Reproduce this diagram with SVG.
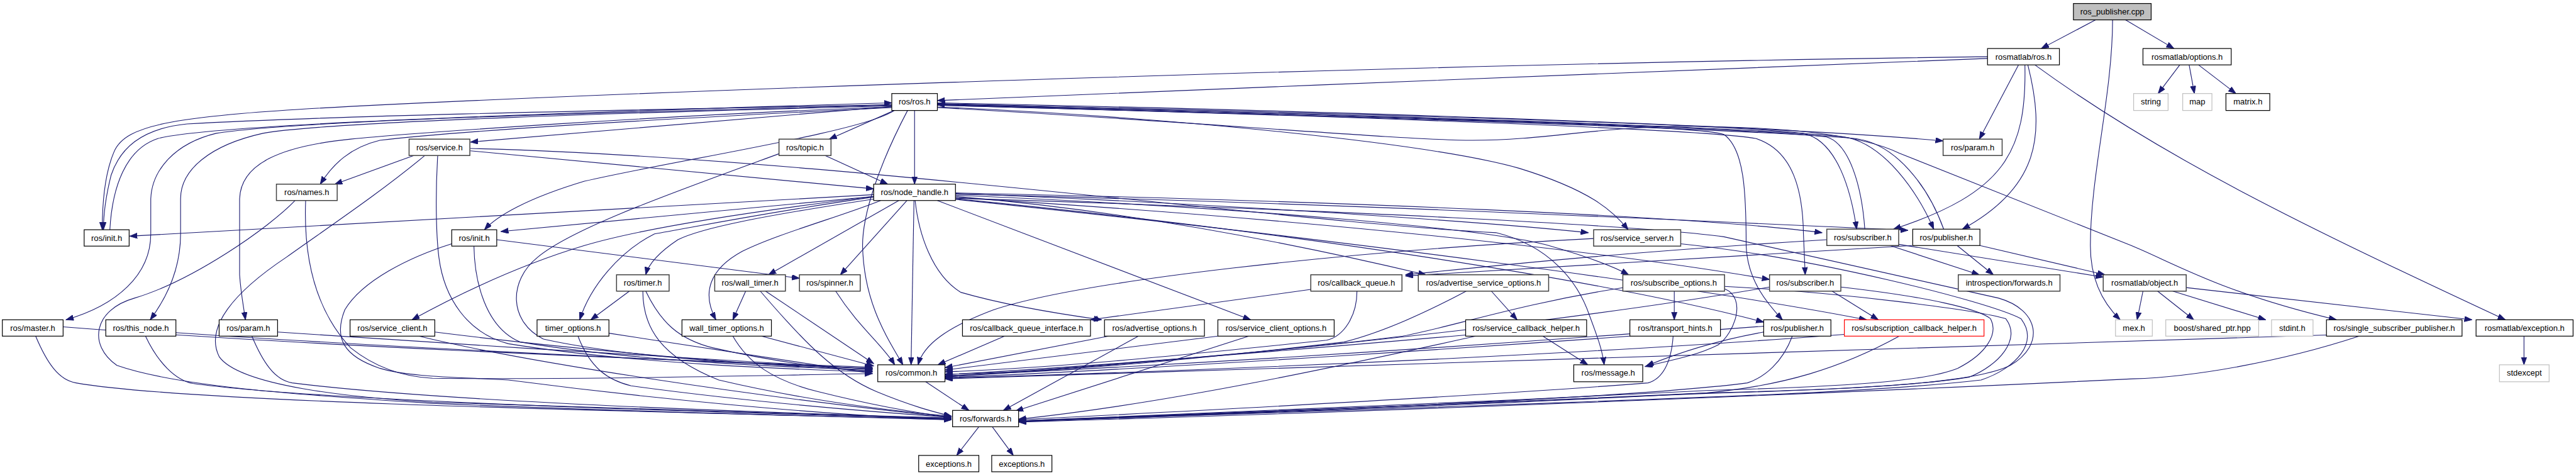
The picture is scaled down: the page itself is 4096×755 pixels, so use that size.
<svg xmlns="http://www.w3.org/2000/svg" width="4096" height="755" viewBox="0 0 4096 755">
<style>
.e{fill:none;stroke:#191970;stroke-width:1.2;marker-end:url(#a)}
rect{fill:#fff;stroke:#000;stroke-width:1.3}
rect.d{stroke:#404040;stroke-width:1.6}
rect.g{stroke:#bfbfbf}
rect.r{stroke:#ff0000}
rect.root{fill:#bfbfbf;stroke:#000}
text{font-family:"Liberation Sans",Arial,Helvetica,sans-serif;font-size:14px;text-anchor:middle;fill:#000}
</style>
<defs>
<marker id="a" markerUnits="userSpaceOnUse" markerWidth="14" markerHeight="10" refX="13" refY="4.7" orient="auto"><path d="M0,0 L13,4.7 L0,9.4 z" fill="#191970" stroke="#191970" stroke-width="1"/></marker>
</defs>
<rect x="0" y="0" width="4096" height="755" style="fill:#fff;stroke:none"/>
<g transform="scale(0.92922)">
<g id="edges">
<path class="e" d="M3586,34 L3493,83"/>
<path class="e" d="M3637,34 L3720,83"/>
<path class="e" d="M3615,34 C3615,160 3577,300 3577,420 C3577,480 3600,520 3628,547"/>
<path class="e" d="M3730,111 L3693,160"/>
<path class="e" d="M3746,111 L3755,160"/>
<path class="e" d="M3762,111 L3826,160"/>
<path class="e" d="M3454,111 L3387,238"/>
<path class="e" d="M3465,111 C3468,260 3430,330 3240,392"/>
<path class="e" d="M3470,111 C3500,230 3490,320 3358,392"/>
<path class="e" d="M3482,111 C3700,270 3950,390 4287,547"/>
<path class="e" d="M3401,100 C3000,114 2200,148 1604,172"/>
<path class="e" d="M3401,97 C2500,108 1200,152 600,182 C300,198 215,212 195,260 C178,300 175,350 175,393"/>
<path class="e" d="M1526,179 C1200,186 600,196 320,212 C240,220 205,255 190,300 C180,340 177,370 177,393"/>
<path class="e" d="M188,393 C192,320 215,255 270,237 C340,218 700,200 1526,176"/>
<path class="e" d="M1526,180 C1000,193 500,207 370,228 C300,245 260,290 258,340 L258,400 C258,470 200,522 113,547"/>
<path class="e" d="M1526,181 C1100,192 560,208 450,228 C360,248 309,290 309,340 L309,400 C309,450 292,500 257,547"/>
<path class="e" d="M1526,183 C1150,196 700,228 600,238 C480,250 412,280 410,340 L410,470 C412,500 416,520 420,547"/>
<path class="e" d="M1526,184 C1200,200 800,222 650,240 C600,252 570,280 548,315"/>
<path class="e" d="M1526,182 L805,243"/>
<path class="e" d="M1530,189 L1419,238"/>
<path class="e" d="M1530,189 C1480,225 1150,275 1000,310 C900,340 850,370 829,393"/>
<path class="e" d="M1565,189 L1565,315"/>
<path class="e" d="M1553,189 C1500,290 1476,370 1476,420 C1478,520 1520,580 1545,624"/>
<path class="e" d="M1604,176 C2200,188 3000,212 3325,241"/>
<path class="e" d="M1604,177 C2300,194 2950,212 3085,228 C3145,240 3168,330 3177,392"/>
<path class="e" d="M3191,392 C3186,320 3165,245 3125,234 C2950,216 2300,197 1604,178"/>
<path class="e" d="M1604,178 C2300,196 2980,216 3155,234 C3225,245 3282,330 3309,392"/>
<path class="e" d="M3326,392 C3300,320 3245,246 3175,237 C2980,220 2300,199 1604,179"/>
<path class="e" d="M1604,180 C2300,198 2930,222 3005,237 C3070,258 3085,330 3086,400 L3089,470"/>
<path class="e" d="M1604,180 C2300,200 2900,212 2950,230 C2985,255 2988,330 2988,420 C2990,480 3025,520 3050,547"/>
<path class="e" d="M1604,183 C2000,200 2450,245 2600,288 C2720,325 2760,360 2786,393"/>
<path class="e" d="M1604,184 C2000,205 2400,240 2520,240 C2650,240 2740,215 2900,216 C3050,218 3180,228 3250,262 L3647,420 C3720,450 3800,500 3998,547"/>
<path class="e" d="M1495,333 L222,404"/>
<path class="e" d="M1495,336 L857,396"/>
<path class="e" d="M1495,336 C1300,360 1100,390 1000,420 C900,450 800,495 705,547"/>
<path class="e" d="M1495,337 C1300,365 1180,390 1120,400 C1060,430 1010,490 992,547"/>
<path class="e" d="M1498,340 C1300,370 1200,390 1160,410 C1130,430 1110,450 1105,470"/>
<path class="e" d="M1507,343 C1440,370 1330,400 1270,430 C1215,460 1200,500 1225,547"/>
<path class="e" d="M1538,343 L1315,470"/>
<path class="e" d="M1552,343 L1438,470"/>
<path class="e" d="M1564,343 L1559,624"/>
<path class="e" d="M1566,343 C1572,400 1595,470 1644,500 C1720,522 1820,538 1885,547"/>
<path class="e" d="M1604,343 L2140,547"/>
<path class="e" d="M1635,331 C2000,345 2500,375 2718,398"/>
<path class="e" d="M1635,330 C2300,344 2900,370 3118,398"/>
<path class="e" d="M1635,332 C2300,348 2950,380 3265,394"/>
<path class="e" d="M1635,336 C1950,362 2250,425 2440,470"/>
<path class="e" d="M1635,334 C2150,356 2550,392 2650,420 C2720,440 2765,458 2787,470"/>
<path class="e" d="M1635,338 C2250,375 2750,430 3028,478"/>
<path class="e" d="M1635,340 C2200,395 2750,480 3018,551"/>
<path class="e" d="M1635,341 C2300,410 2900,490 3194,547"/>
<path class="e" d="M1635,339 C2300,360 2800,385 2950,405 L3420,510 C3490,530 3500,590 3440,625 C3380,655 3200,665 2920,673 C2500,690 2000,712 1743,721"/>
<path class="e" d="M805,258 L1495,323"/>
<path class="e" d="M708,266 L573,315"/>
<path class="e" d="M749,266 C745,330 746,400 751,440 C760,510 800,570 870,588 C1100,625 1400,633 1493,636"/>
<path class="e" d="M727,266 C650,330 560,390 490,440 C400,500 350,560 375,610 C410,660 600,680 740,688 C1100,700 1400,710 1628,716"/>
<path class="e" d="M805,254 C1400,268 2200,380 2560,398 C2650,420 2700,480 2720,540 C2735,580 2742,600 2745,624"/>
<path class="e" d="M1412,266 L1519,315"/>
<path class="e" d="M1333,263 C1150,330 980,390 920,440 C870,480 870,550 930,580 C1100,618 1400,628 1493,630"/>
<path class="e" d="M505,343 C460,390 330,480 230,510 C160,530 150,590 200,625 C300,660 500,675 740,690 C1100,705 1400,712 1628,718"/>
<path class="e" d="M523,343 C520,420 530,520 600,595 C650,635 700,645 740,647 C1000,650 1300,642 1493,639"/>
<path class="e" d="M850,410 L1368,476"/>
<path class="e" d="M811,421 C812,480 830,560 890,585 C1100,620 1380,630 1493,632"/>
<path class="e" d="M773,417 C700,440 620,480 590,530 C570,580 590,610 650,630 C700,645 780,645 870,650 C1100,680 1400,710 1628,718"/>
<path class="e" d="M744,568 C1000,600 1300,625 1493,634"/>
<path class="e" d="M717,575 C900,620 1300,680 1628,714"/>
<path class="e" d="M108,559 C500,590 1100,615 1493,628"/>
<path class="e" d="M61,575 C80,620 100,650 130,655 C300,685 900,700 1628,717"/>
<path class="e" d="M301,569 C600,590 1100,615 1493,630"/>
<path class="e" d="M249,575 C270,620 300,650 330,656 C500,680 1000,700 1628,716"/>
<path class="e" d="M475,568 C800,590 1200,615 1493,631"/>
<path class="e" d="M431,575 C450,620 470,650 500,655 C700,680 1100,700 1628,715"/>
<path class="e" d="M1077,498 L1011,547"/>
<path class="e" d="M1105,498 C1130,550 1160,580 1220,595 C1330,620 1430,632 1493,636"/>
<path class="e" d="M1100,498 C1100,560 1130,610 1230,650 C1400,690 1550,705 1628,712"/>
<path class="e" d="M1042,570 L1493,639"/>
<path class="e" d="M989,575 C1010,630 1040,650 1080,660 C1300,690 1500,705 1628,714"/>
<path class="e" d="M1276,498 L1254,547"/>
<path class="e" d="M1310,498 L1495,622"/>
<path class="e" d="M1301,498 C1380,590 1430,640 1500,670 C1560,695 1600,705 1628,712"/>
<path class="e" d="M1303,575 L1495,626"/>
<path class="e" d="M1254,575 C1280,620 1320,650 1400,670 C1500,695 1580,708 1628,714"/>
<path class="e" d="M1430,498 C1470,560 1510,590 1531,624"/>
<path class="e" d="M1584,653 L1658,702"/>
<path class="e" d="M1675,730 L1637,779"/>
<path class="e" d="M1698,730 L1734,779"/>
<path class="e" d="M1719,575 L1605,624"/>
<path class="e" d="M1897,575 L1617,629"/>
<path class="e" d="M1948,575 L1717,702"/>
<path class="e" d="M2084,575 L1617,633"/>
<path class="e" d="M2137,575 L1738,703"/>
<path class="e" d="M2243,495 C2100,515 1950,535 1866,547"/>
<path class="e" d="M2322,498 C2322,540 2300,575 2270,582 C2000,610 1800,630 1617,636"/>
<path class="e" d="M2552,498 L2596,547"/>
<path class="e" d="M2509,498 C2430,540 2360,570 2300,585 C2000,620 1800,637 1617,640"/>
<path class="e" d="M2640,575 L2717,624"/>
<path class="e" d="M2508,573 C2200,600 1900,625 1617,641"/>
<path class="e" d="M2525,575 C2300,625 2000,690 1743,717"/>
<path class="e" d="M2789,571 C2400,600 2000,625 1617,643"/>
<path class="e" d="M2863,575 C2860,620 2845,648 2820,655 C2500,680 2000,705 1743,718"/>
<path class="e" d="M2865,498 L2865,547"/>
<path class="e" d="M2777,492 C2600,520 2480,560 2400,575 C2200,600 1900,625 1617,644"/>
<path class="e" d="M2951,494 C2990,510 2968,570 2940,590 C2900,610 2850,618 2815,627"/>
<path class="e" d="M2951,490 C3150,500 3380,530 3432,545 C3460,580 3420,625 3370,645 C3250,665 3000,670 2920,672 C2500,692 2000,712 1743,720"/>
<path class="e" d="M3135,498 L3214,547"/>
<path class="e" d="M3028,491 C2800,530 2300,600 1617,645"/>
<path class="e" d="M3150,491 C3300,508 3385,528 3406,545 C3420,570 3400,605 3350,630 C3300,650 3200,660 2920,668 C2500,690 2000,710 1743,720"/>
<path class="e" d="M2727,408 C2300,430 1850,480 1700,530 C1620,560 1580,590 1571,624"/>
<path class="e" d="M2876,417 C3100,440 3400,515 3458,545 C3490,585 3450,630 3390,650 C3200,672 2900,680 2500,695 C2100,710 1900,718 1743,721"/>
<path class="e" d="M3018,568 C2950,580 2880,600 2817,626"/>
<path class="e" d="M3018,558 C2600,590 2000,630 1617,646"/>
<path class="e" d="M3067,575 C3050,620 3020,645 2990,655 C2800,680 2200,705 1743,720"/>
<path class="e" d="M3250,575 C3150,630 3050,660 2920,672 C2500,695 2000,712 1743,721"/>
<path class="e" d="M3156,572 C2800,600 2200,630 1617,647"/>
<path class="e" d="M3981,573 C3500,590 2800,612 1617,648"/>
<path class="e" d="M4037,575 C3900,620 3750,645 3650,648 C3300,665 2500,700 1743,722"/>
<path class="e" d="M3234,420 L3387,470"/>
<path class="e" d="M3349,420 L3411,470"/>
<path class="e" d="M3249,418 L3599,474"/>
<path class="e" d="M3388,420 L3602,470"/>
<path class="e" d="M3126,410 C2800,430 2600,450 2405,470"/>
<path class="e" d="M3272,420 C2900,445 2600,458 2405,472"/>
<path class="e" d="M3667,498 L3657,547"/>
<path class="e" d="M3692,498 L3754,547"/>
<path class="e" d="M3718,498 L3877,547"/>
<path class="e" d="M3741,492 L4230,547"/>
<path class="e" d="M4319,575 L4319,624"/>
</g>
<g id="n_ros_publisher_cpp"><rect class="root" x="3548" y="6" width="133" height="28"/><text x="3614.5" y="25">ros_publisher.cpp</text></g>
<g id="n_rosmatlab_ros_h"><rect x="3401" y="83" width="123" height="28"/><text x="3462.5" y="102">rosmatlab/ros.h</text></g>
<g id="n_rosmatlab_options_h"><rect x="3667" y="83" width="151" height="28"/><text x="3742.5" y="102">rosmatlab/options.h</text></g>
<g id="n_string"><rect class="g" x="3651" y="160" width="59" height="29"/><text x="3680.5" y="179">string</text></g>
<g id="n_map"><rect class="g" x="3735" y="160" width="50" height="29"/><text x="3760" y="179">map</text></g>
<g id="n_matrix_h"><rect x="3809" y="160" width="75" height="29"/><text x="3846.5" y="179">matrix.h</text></g>
<g id="n_ros_ros_h"><rect x="1526" y="160" width="78" height="29"/><text x="1565" y="179">ros/ros.h</text></g>
<g id="n_ros_service_h"><rect class="d" x="700" y="238" width="104" height="28"/><text x="752" y="257">ros/service.h</text></g>
<g id="n_ros_topic_h"><rect class="d" x="1333" y="238" width="89" height="28"/><text x="1377.5" y="257">ros/topic.h</text></g>
<g id="n_ros_param_h_1"><rect class="d" x="3325" y="238" width="101" height="28"/><text x="3375.5" y="257">ros/param.h</text></g>
<g id="n_ros_names_h"><rect class="d" x="473" y="315" width="104" height="28"/><text x="525" y="334">ros/names.h</text></g>
<g id="n_ros_node_handle_h"><rect x="1495" y="315" width="140" height="28"/><text x="1565" y="334">ros/node_handle.h</text></g>
<g id="n_ros_init_h_1"><rect x="144" y="393" width="77" height="28"/><text x="182.5" y="412">ros/init.h</text></g>
<g id="n_ros_init_h_2"><rect x="773" y="393" width="77" height="28"/><text x="811.5" y="412">ros/init.h</text></g>
<g id="n_ros_service_server_h"><rect class="d" x="2727" y="393" width="149" height="28"/><text x="2801.5" y="412">ros/service_server.h</text></g>
<g id="n_ros_subscriber_h_1"><rect class="d" x="3126" y="392" width="123" height="28"/><text x="3187.5" y="411">ros/subscriber.h</text></g>
<g id="n_ros_publisher_h_1"><rect x="3273" y="392" width="115" height="28"/><text x="3330.5" y="411">ros/publisher.h</text></g>
<g id="n_ros_timer_h"><rect class="d" x="1055" y="470" width="90" height="28"/><text x="1100" y="489">ros/timer.h</text></g>
<g id="n_ros_wall_timer_h"><rect class="d" x="1223" y="470" width="121" height="28"/><text x="1283.5" y="489">ros/wall_timer.h</text></g>
<g id="n_ros_spinner_h"><rect class="d" x="1368" y="470" width="104" height="28"/><text x="1420" y="489">ros/spinner.h</text></g>
<g id="n_ros_callback_queue_h"><rect class="d" x="2243" y="470" width="156" height="28"/><text x="2321" y="489">ros/callback_queue.h</text></g>
<g id="n_ros_advertise_service_options_h"><rect class="d" x="2427" y="470" width="223" height="28"/><text x="2538.5" y="489">ros/advertise_service_options.h</text></g>
<g id="n_ros_subscribe_options_h"><rect class="d" x="2777" y="470" width="174" height="28"/><text x="2864" y="489">ros/subscribe_options.h</text></g>
<g id="n_ros_subscriber_h_2"><rect class="d" x="3028" y="470" width="122" height="28"/><text x="3089" y="489">ros/subscriber.h</text></g>
<g id="n_introspection_forwards_h"><rect class="d" x="3351" y="470" width="174" height="28"/><text x="3438" y="489">introspection/forwards.h</text></g>
<g id="n_rosmatlab_object_h"><rect class="d" x="3599" y="470" width="142" height="28"/><text x="3670" y="489">rosmatlab/object.h</text></g>
<g id="n_ros_master_h"><rect x="4" y="547" width="104" height="28"/><text x="56" y="566">ros/master.h</text></g>
<g id="n_ros_this_node_h"><rect x="181" y="547" width="120" height="28"/><text x="241" y="566">ros/this_node.h</text></g>
<g id="n_ros_param_h_2"><rect x="375" y="547" width="100" height="28"/><text x="425" y="566">ros/param.h</text></g>
<g id="n_ros_service_client_h"><rect x="599" y="547" width="145" height="28"/><text x="671.5" y="566">ros/service_client.h</text></g>
<g id="n_timer_options_h"><rect x="919" y="547" width="123" height="28"/><text x="980.5" y="566">timer_options.h</text></g>
<g id="n_wall_timer_options_h"><rect x="1167" y="547" width="153" height="28"/><text x="1243.5" y="566">wall_timer_options.h</text></g>
<g id="n_ros_callback_queue_interface_h"><rect x="1647" y="547" width="219" height="28"/><text x="1756.5" y="566">ros/callback_queue_interface.h</text></g>
<g id="n_ros_advertise_options_h"><rect x="1890" y="547" width="171" height="28"/><text x="1975.5" y="566">ros/advertise_options.h</text></g>
<g id="n_ros_service_client_options_h"><rect x="2084" y="547" width="199" height="28"/><text x="2183.5" y="566">ros/service_client_options.h</text></g>
<g id="n_ros_service_callback_helper_h"><rect x="2508" y="547" width="207" height="28"/><text x="2611.5" y="566">ros/service_callback_helper.h</text></g>
<g id="n_ros_transport_hints_h"><rect x="2789" y="547" width="155" height="28"/><text x="2866.5" y="566">ros/transport_hints.h</text></g>
<g id="n_ros_publisher_h_2"><rect x="3018" y="547" width="115" height="28"/><text x="3075.5" y="566">ros/publisher.h</text></g>
<g id="n_ros_subscription_callback_helper_h"><rect class="r" x="3156" y="547" width="239" height="28"/><text x="3275.5" y="566">ros/subscription_callback_helper.h</text></g>
<g id="n_mex_h"><rect class="g" x="3620" y="547" width="63" height="28"/><text x="3651.5" y="566">mex.h</text></g>
<g id="n_boost_shared_ptr_hpp"><rect class="g" x="3706" y="547" width="159" height="28"/><text x="3785.5" y="566">boost/shared_ptr.hpp</text></g>
<g id="n_stdint_h"><rect class="g" x="3887" y="547" width="71" height="28"/><text x="3922.5" y="566">stdint.h</text></g>
<g id="n_ros_single_subscriber_publisher_h"><rect x="3981" y="547" width="232" height="28"/><text x="4097" y="566">ros/single_subscriber_publisher.h</text></g>
<g id="n_rosmatlab_exception_h"><rect x="4237" y="547" width="166" height="28"/><text x="4320" y="566">rosmatlab/exception.h</text></g>
<g id="n_ros_common_h"><rect x="1502" y="624" width="115" height="29"/><text x="1559.5" y="643">ros/common.h</text></g>
<g id="n_ros_message_h"><rect x="2693" y="624" width="118" height="29"/><text x="2752" y="643">ros/message.h</text></g>
<g id="n_stdexcept"><rect class="g" x="4277" y="624" width="85" height="29"/><text x="4319.5" y="643">stdexcept</text></g>
<g id="n_ros_forwards_h"><rect x="1630" y="702" width="113" height="28"/><text x="1686.5" y="721">ros/forwards.h</text></g>
<g id="n_exceptions_h_1"><rect x="1572" y="779" width="103" height="28"/><text x="1623.5" y="798">exceptions.h</text></g>
<g id="n_exceptions_h_2"><rect x="1697" y="779" width="103" height="28"/><text x="1748.5" y="798">exceptions.h</text></g>
</g>
</svg>
